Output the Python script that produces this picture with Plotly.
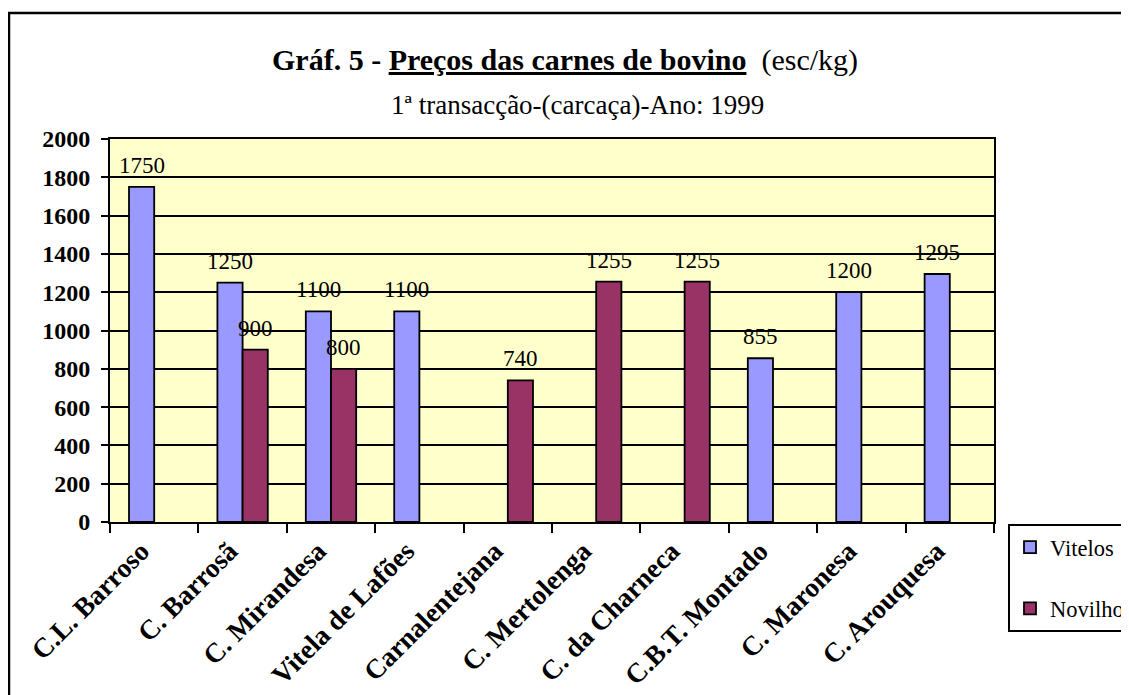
import plotly.graph_objects as go

categories = ["C.L. Barroso", "C. Barrosã", "C. Mirandesa", "Vitela de Lafões",
              "Carnalentejana", "C. Mertolenga", "C. da Charneca", "C.B.T. Montado",
              "C. Maronesa", "C. Arouquesa"]
vitelos = [1750, 1250, 1100, 1100, None, None, None, 855, 1200, 1295]
novilho = [None, 900, 800, None, 740, 1255, 1255, None, None, None]
series_names = ["Vitelos", "Novilho"]
y_ticks = list(range(0, 2001, 200))

# page offset of the figure (default body margin)
OFF = 8
W, H = 1129 - OFF, 695 - OFF
L, R, T, B = 110 - OFF, 994 - OFF, 139 - OFF, 522 - OFF
pw, ph = R - L, B - T


def px_x(x):
    return (x - OFF - L) / pw


def px_y(y):
    return (B - (y - OFF)) / ph


FONT = "Liberation Serif, Times New Roman, serif"
colors = ["#9999FF", "#993366"]

fig = go.Figure()
for name, vals, col in zip(series_names, [vitelos, novilho], colors):
    fig.add_trace(go.Bar(
        x=categories, y=vals, name=name, legendgroup=name,
        marker=dict(color=col, line=dict(color="black", width=1.8)),
    ))

annotations = []
shift = pw / len(categories) * 0.57 / 4
for vals, xs in zip([vitelos, novilho], [-shift, shift]):
    for c, v in zip(categories, vals):
        if v is None:
            continue
        annotations.append(dict(
            x=c, y=v, xref="x", yref="y", text=str(v), showarrow=False,
            xshift=xs, yshift=7, yanchor="bottom",
            font=dict(family=FONT, size=23, color="black")))

annotations.append(dict(
    x=px_x(565), y=px_y(60), xref="paper", yref="paper", showarrow=False,
    text="<b>Gráf. 5 - <u>Preços das carnes de bovino</u></b>  (esc/kg)",
    font=dict(family=FONT, size=30, color="black"), xanchor="center", yanchor="middle"))
annotations.append(dict(
    x=px_x(577), y=px_y(105), xref="paper", yref="paper", showarrow=False,
    text="1ª transacção-(carcaça)-Ano: 1999",
    font=dict(family=FONT, size=27, color="black"), xanchor="center", yanchor="middle"))

fig.update_layout(
    width=W, height=H,
    margin=dict(l=L, r=W - R, t=T, b=H - B, autoexpand=False),
    paper_bgcolor="white", plot_bgcolor="#FFFFCC",
    barmode="group", bargap=0.43, bargroupgap=0,
    font=dict(family=FONT, color="black"),
    annotations=annotations,
    showlegend=True,
    legend=dict(
        x=px_x(1008), y=px_y(524), xanchor="left", yanchor="top",
        bgcolor="white", bordercolor="black", borderwidth=2,
        font=dict(family=FONT, size=22.5, color="black"),
        traceorder="grouped", tracegroupgap=29,
    ),
    shapes=[dict(type="rect", xref="paper", yref="paper",
                 x0=px_x(9), x1=px_x(1150), y0=px_y(710), y1=px_y(13),
                 line=dict(color="black", width=2.5), fillcolor="rgba(0,0,0,0)")],
)

fig.update_yaxes(
    range=[0, 2000], tickvals=y_ticks, ticktext=[str(v) for v in y_ticks],
    showgrid=True, gridcolor="black", gridwidth=1.5,
    showline=True, linecolor="black", linewidth=2, mirror=True,
    ticks="outside", ticklen=7, tickwidth=2, tickcolor="black",
    ticklabelstandoff=6,
    tickfont=dict(family=FONT, size=24, color="black", weight="bold"),
    zeroline=False, fixedrange=True,
)
fig.update_xaxes(
    type="category", tickangle=-45,
    showline=True, linecolor="black", linewidth=2, mirror=True,
    ticks="outside", ticklen=9, tickwidth=2, tickcolor="black",
    tickson="boundaries", ticklabelshift=-13,
    tickfont=dict(family=FONT, size=27.5, color="black", weight="bold"),
    showgrid=False, fixedrange=True,
)

fig.write_html("out.html")
